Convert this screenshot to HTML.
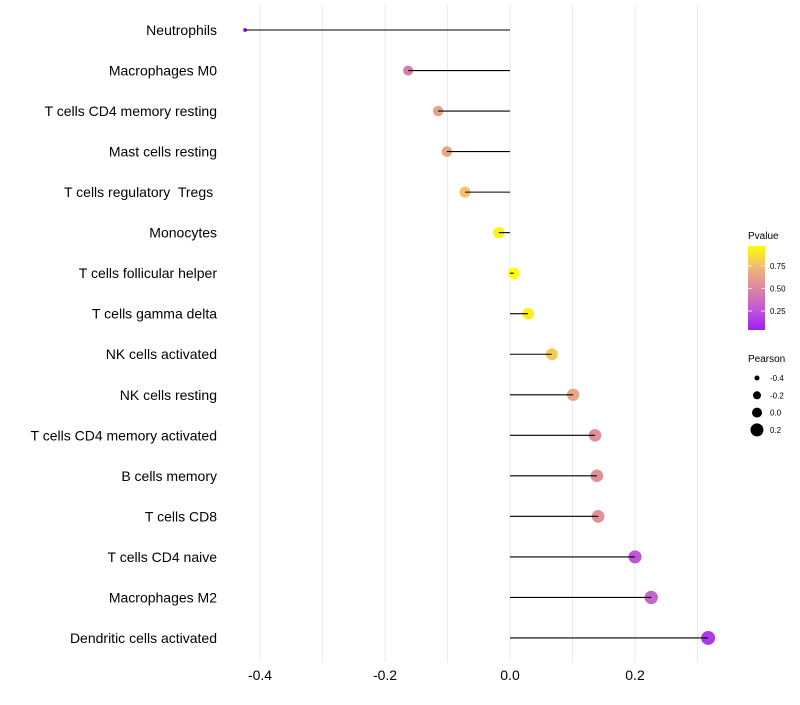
<!DOCTYPE html>
<html><head><meta charset="utf-8"><style>
body{margin:0;background:#fff;font-family:"Liberation Sans",sans-serif}
text{white-space:pre}
</style></head><body>
<svg id="chart" width="800" height="700" xmlns="http://www.w3.org/2000/svg" font-family="Liberation Sans, sans-serif"></svg>
<script>
const cells=["Neutrophils","Macrophages M0","T cells CD4 memory resting","Mast cells resting","T cells regulatory  Tregs ","Monocytes","T cells follicular helper","T cells gamma delta","NK cells activated","NK cells resting","T cells CD4 memory activated","B cells memory","T cells CD8","T cells CD4 naive","Macrophages M2","Dendritic cells activated"];
const pearson=[-0.424,-0.163,-0.115,-0.101,-0.072,-0.018,0.006,0.029,0.067,0.101,0.136,0.139,0.141,0.200,0.226,0.317];
const pvalue=[0.04,0.45,0.62,0.65,0.78,0.93,0.97,0.92,0.80,0.65,0.55,0.55,0.55,0.27,0.33,0.14];
const xTicks=[-0.4,-0.2,0.0,0.2];
const xGrid=[-0.4,-0.3,-0.2,-0.1,0,0.1,0.2,0.3];
const pTicks=[0.25,0.50,0.75];
const sizeTicks=[-0.4,-0.2,0.0,0.2];

const svg=document.getElementById('chart');
const NS="http://www.w3.org/2000/svg";
function mk(tag,attrs,parent){const e=document.createElementNS(NS,tag);for(const k in attrs)e.setAttribute(k,attrs[k]);(parent||svg).appendChild(e);return e;}
const x=v=>510+v*625;
const y=i=>30+i*40.53;
const pMin=0.04,pMax=0.97;
const stops=[[160,32,240],[192,88,216],[220,136,160],[240,184,120],[255,255,0]];
function col(p){
  let t=(p-pMin)/(pMax-pMin);t=Math.max(0,Math.min(0.9999,t));
  const seg=Math.floor(t*4),u=t*4-seg;const a=stops[seg],b=stops[seg+1];
  return `rgb(${a.map((c,k)=>Math.round(c+(b[k]-c)*u)).join(',')})`;
}
const rad=v=>v<-0.163?2+3*(v+0.424)/0.261:Math.sqrt(25+50*(v+0.163));

xGrid.forEach(g=>{const l=mk('line',{x1:x(g),x2:x(g),y1:5,y2:662,stroke:'#ebebeb','stroke-width':1});
});
xTicks.forEach(t=>{const tx=mk('text',{x:x(t),y:680,'text-anchor':'middle','font-size':14,fill:'#000'});tx.textContent=t.toFixed(1);
});

cells.forEach((c,i)=>{
  const lab=mk('text',{x:217,y:y(i)+5,'text-anchor':'end','font-size':14,fill:'#000'});lab.textContent=c;
  
  const pt=mk('circle',{cx:x(pearson[i]),cy:y(i),r:rad(pearson[i]),fill:col(pvalue[i])});
  
  const ln=mk('line',{x1:x(0),x2:x(pearson[i]),y1:y(i),y2:y(i),stroke:'#000','stroke-width':1.1});
  
});

const lt=mk('text',{x:748,y:239,'font-size':10,fill:'#000'});lt.textContent='Pvalue';

const defs=mk('defs',{});const gr=mk('linearGradient',{id:'pg',x1:0,y1:1,x2:0,y2:0},defs);
[0,0.25,0.5,0.75,1].forEach(o=>mk('stop',{offset:o,'stop-color':col(pMin+o*(pMax-pMin))},gr));
const bar=mk('rect',{x:748,y:246,width:17,height:84,fill:'url(#pg)'});

const py=p=>330-(p-pMin)/(pMax-pMin)*84;
pTicks.forEach(p=>{mk('line',{x1:748,x2:752,y1:py(p),y2:py(p),stroke:'#fff','stroke-width':0.8});mk('line',{x1:761,x2:765,y1:py(p),y2:py(p),stroke:'#fff','stroke-width':0.8});
const t=mk('text',{x:770,y:py(p)+3,'font-size':8,fill:'#000'});t.textContent=p.toFixed(2);
});

const st=mk('text',{x:748,y:362,'font-size':10,fill:'#000'});st.textContent='Pearson';

const legR=[2.5,4,5,6.5];
sizeTicks.forEach((s,k)=>{const cy=378+k*17.3;
const c=mk('circle',{cx:757,cy:cy,r:legR[k],fill:'#000'});

const t=mk('text',{x:770,y:cy+3,'font-size':8,fill:'#000'});t.textContent=s.toFixed(1);
});
</script>
</body></html>
